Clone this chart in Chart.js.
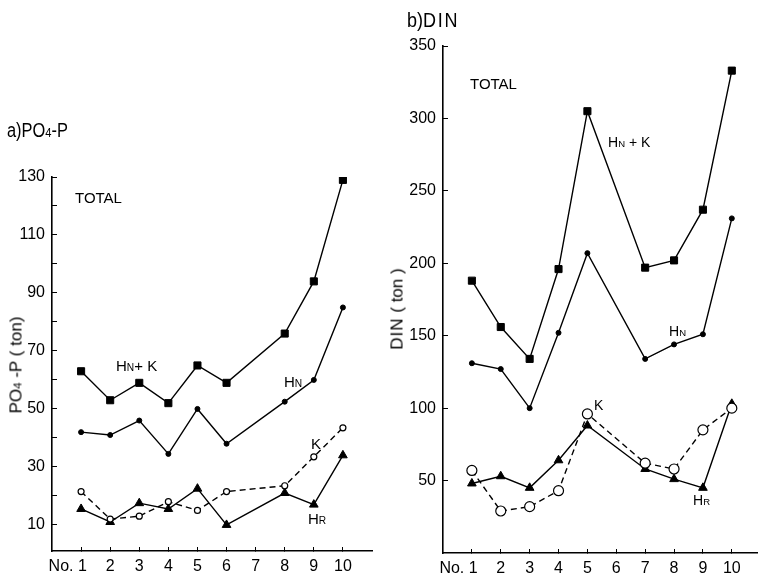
<!DOCTYPE html>
<html>
<head>
<meta charset="utf-8">
<script src="https://cdn.jsdelivr.net/npm/chart.js@4.4.1/dist/chart.umd.min.js"></script>
<style>
  body { margin: 0; background: #fff; }
  #wrap { position: relative; width: 764px; height: 578px; overflow: hidden;
          font-family: "Liberation Sans", Arial, sans-serif; color: #000; }
  canvas { position: absolute; top: 0; }
  .lbl { position: absolute; line-height: 1; white-space: nowrap; }
  .sm { font-size: 0.68em; }
  .rot { position: absolute; line-height: 1; white-space: nowrap;
         transform: translate(-50%, -50%) rotate(-90deg); }
</style>
</head>
<body>
<div id="wrap">
  <canvas id="poChart" width="380" height="578" style="left:0"></canvas>
  <canvas id="dinChart" width="384" height="578" style="left:380px"></canvas>

  <div class="lbl" style="left:7px;top:120px;font-size:20px;transform:scaleX(0.82);transform-origin:left">a)PO<span class="sm">4</span>-P</div>
  <div class="lbl" style="left:75px;top:190px;font-size:15px">TOTAL</div>
  <div class="rot" style="left:16px;top:365px;font-size:17px">PO<span class="sm">4</span> -P ( ton)</div>
  <div class="lbl" style="left:116px;top:358px;font-size:15px">H<span class="sm">N</span>+ K</div>
  <div class="lbl" style="left:284px;top:374px;font-size:15px">H<span class="sm">N</span></div>
  <div class="lbl" style="left:311px;top:436px;font-size:15px">K</div>
  <div class="lbl" style="left:308px;top:511px;font-size:15px">H<span class="sm">R</span></div>

  <div class="lbl" style="left:407px;top:10px;font-size:20px;transform:scaleX(0.9);transform-origin:left">b)<span style="letter-spacing:2px">DIN</span></div>
  <div class="lbl" style="left:470px;top:76px;font-size:15px">TOTAL</div>
  <div class="rot" style="left:397px;top:309px;font-size:17px"><span style="letter-spacing:1px">DIN</span> ( ton )</div>
  <div class="lbl" style="left:608px;top:135px;font-size:14px">H<span class="sm">N</span> + K</div>
  <div class="lbl" style="left:669px;top:324px;font-size:14px">H<span class="sm">N</span></div>
  <div class="lbl" style="left:594px;top:398px;font-size:14px">K</div>
  <div class="lbl" style="left:693px;top:493px;font-size:14px">H<span class="sm">R</span></div>
</div>
<script>
// x axis: stations No.1 .. No.10
const stations = [1, 2, 3, 4, 5, 6, 7, 8, 9, 10];
const xTickLabels = ["No. 1", "2", "3", "4", "5", "6", "7", "8", "9", "10"];

// a) PO4-P (ton) - station 7 has no value
const poStations = [1, 2, 3, 4, 5, 6, 8, 9, 10];
const poHnK = [63, 53, 59, 52, 65, 59, 76, 94, 129];
const poHn = [42, 41, 46, 34.5, 50, 38, 52.5, 60, 85];
const poK = [21.5, 12, 13, 18, 15, 21.5, 23.5, 33.5, 43.5];
const poHr = [15.5, 11, 17.5, 15.5, 22.5, 10, 21, 17, 34];
const poYTicks = [10, 20, 30, 40, 50, 60, 70, 80, 90, 100, 110, 120, 130];
const poYLabels = [10, 30, 50, 70, 90, 110, 130];

// b) DIN (ton) - station 6 has no value
const dinStations = [1, 2, 3, 4, 5, 7, 8, 9, 10];
const dinHnK = [188, 156, 134, 196, 305, 197, 202, 237, 333];
const dinHn = [131, 127, 100, 152, 207, 134, 144, 151, 231];
const dinK = [57, 29, 32, 43, 96, 62, 58, 85, 100];
const dinHr = [48, 53, 45, 64, 88, 58, 51, 45, 103];
const dinYTicks = [50, 100, 150, 200, 250, 300, 350];
const dinYLabels = [50, 100, 150, 200, 250, 300, 350];

const INK = "#000";
const FONT = "'Liberation Sans', Arial, sans-serif";

function toPoints(xs, ys) {
  return xs.map((x, i) => ({ x, y: ys[i] }));
}

function lineSet(xs, ys, style) {
  return Object.assign({
    data: toPoints(xs, ys),
    borderColor: INK,
    backgroundColor: INK,
    pointBorderColor: INK,
    pointBackgroundColor: INK,
    borderWidth: 1.4,
    pointBorderWidth: 1,
    tension: 0
  }, style);
}

function buildChart(canvasId, cfg) {
  const datasets = [
    lineSet(cfg.xs, cfg.hnk, { pointStyle: "rect", pointRadius: 5 }),
    lineSet(cfg.xs, cfg.hn, { pointStyle: "circle", pointRadius: 2.5 }),
    lineSet(cfg.xs, cfg.k, {
      pointStyle: "circle",
      pointRadius: cfg.openRadius,
      pointBackgroundColor: "#fff",
      pointBorderWidth: 1.2,
      borderDash: [6, 4]
    }),
    lineSet(cfg.xs, cfg.hr, { pointStyle: "triangle", pointRadius: 5 })
  ];

  return new Chart(document.getElementById(canvasId), {
    type: "line",
    data: { datasets },
    options: {
      responsive: false,
      animation: false,
      layout: { padding: cfg.padding },
      plugins: { legend: { display: false }, tooltip: { enabled: false } },
      scales: {
        x: {
          type: "linear",
          min: 0,
          max: cfg.xMax,
          afterBuildTicks(scale) {
            scale.ticks = stations.map((v) => ({ value: v }));
          },
          afterFit(scale) {
            scale.height = cfg.xHeight;
          },
          ticks: {
            autoSkip: false,
            maxRotation: 0,
            padding: 10,
            color: INK,
            font: { family: FONT, size: 16 },
            callback(value) {
              const i = stations.indexOf(value);
              if (i < 0) return "";
              return i === 0 ? xTickLabels[i] + "\u2007\u2007\u2007" : xTickLabels[i];
            }
          },
          grid: { drawOnChartArea: false, tickLength: -4, tickColor: INK, tickWidth: 1 },
          border: { color: INK, width: 1.6 }
        },
        y: {
          min: cfg.yMin,
          max: cfg.yMax,
          afterBuildTicks(scale) {
            scale.ticks = cfg.yTicks.map((v) => ({ value: v }));
          },
          afterFit(scale) {
            scale.width = cfg.yWidth;
          },
          ticks: {
            padding: 12,
            color: INK,
            font: { family: FONT, size: 16 },
            callback(value) {
              return cfg.yLabels.includes(value) ? String(value) : "";
            }
          },
          grid: { drawOnChartArea: false, tickLength: -5, tickColor: INK, tickWidth: 1 },
          border: { color: INK, width: 1.6 }
        }
      }
    }
  });
}

buildChart("poChart", {
  xs: poStations, hnk: poHnK, hn: poHn, k: poK, hr: poHr,
  openRadius: 3,
  yMin: 1, yMax: 130, yTicks: poYTicks, yLabels: poYLabels,
  xMax: 11, xHeight: 27, yWidth: 52,
  padding: { top: 177, right: 8, bottom: 0, left: 0 }
});

buildChart("dinChart", {
  xs: dinStations, hnk: dinHnK, hn: dinHn, k: dinK, hr: dinHr,
  openRadius: 5,
  yMin: 0, yMax: 350, yTicks: dinYTicks, yLabels: dinYLabels,
  xMax: 10.9, xHeight: 25, yWidth: 63,
  padding: { top: 46, right: 2, bottom: 0, left: 0 }
});
</script>
</body>
</html>
